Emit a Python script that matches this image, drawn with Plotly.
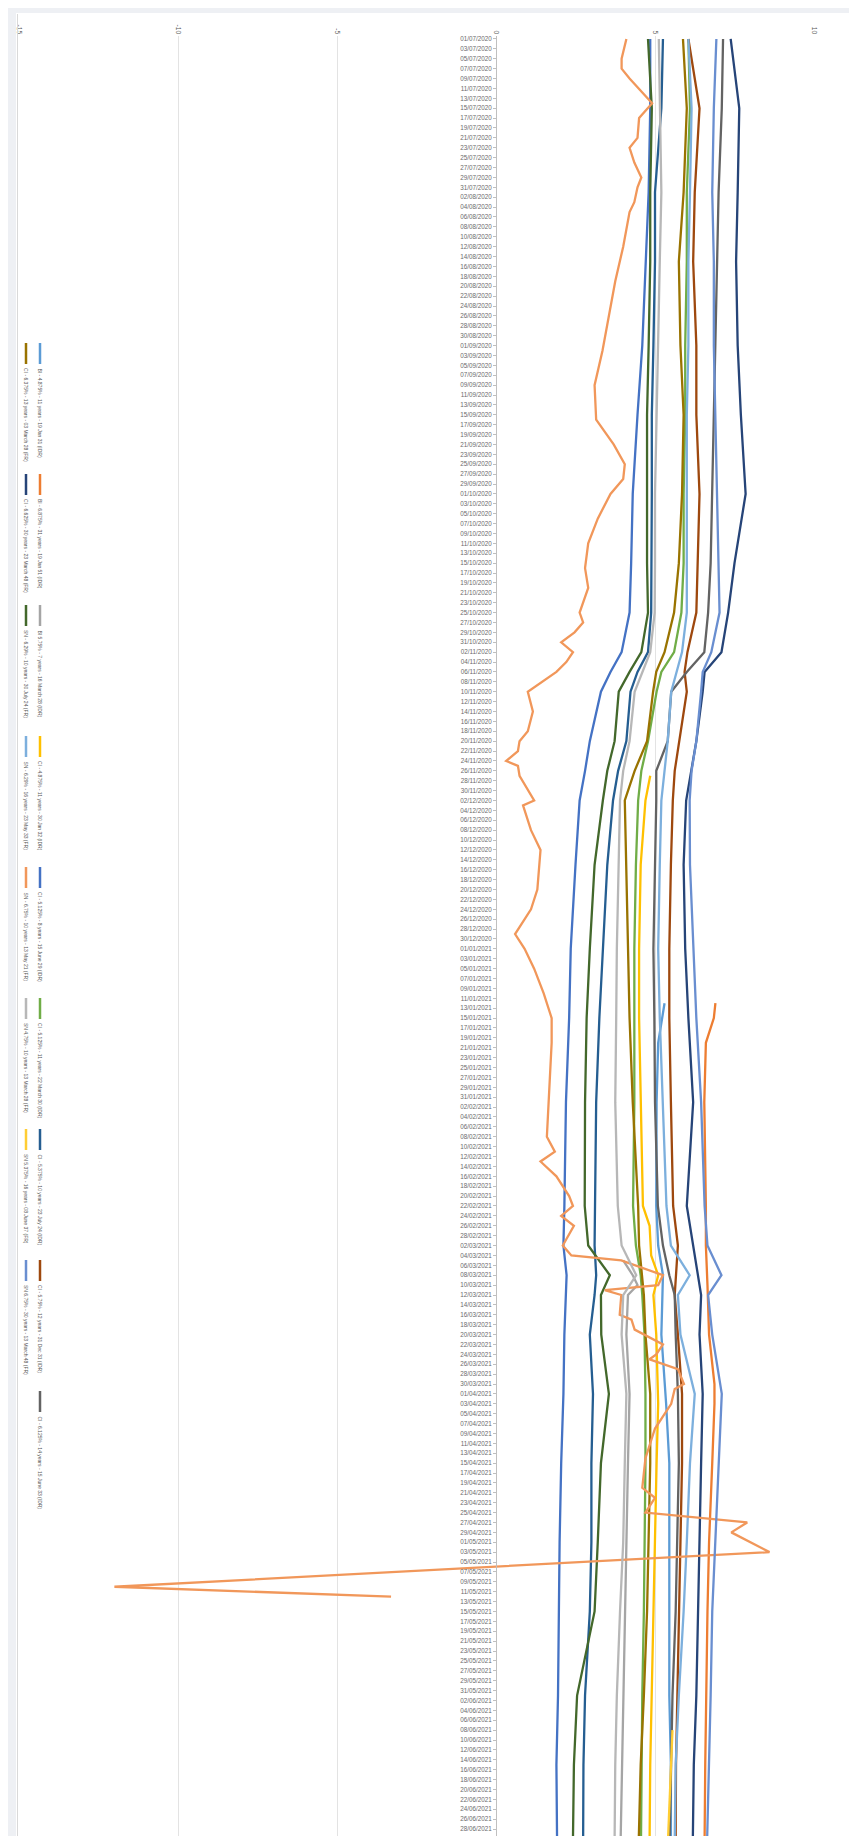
import plotly.graph_objects as go

# ---------------- data ----------------
grid_dates = ["2020-07-01", "2020-07-15", "2020-08-01", "2020-08-15", "2020-09-01", "2020-09-15",
              "2020-10-01", "2020-10-15", "2020-10-25", "2020-11-02", "2020-11-06", "2020-11-10",
              "2020-11-20", "2020-11-26", "2020-12-02", "2020-12-15", "2021-01-01", "2021-01-15",
              "2021-02-01", "2021-02-22", "2021-03-02", "2021-03-08", "2021-03-12", "2021-03-20",
              "2021-04-01", "2021-04-15", "2021-05-01", "2021-05-15", "2021-06-01", "2021-06-15",
              "2021-06-30"]

bi_4875_31_dates = ["2021-01-12", "2021-01-20", "2021-02-01", "2021-02-22", "2021-03-02", "2021-03-08",
                    "2021-03-20", "2021-04-03", "2021-04-15", "2021-05-01", "2021-05-15", "2021-06-01",
                    "2021-06-15", "2021-06-30"]
bi_4875_31 = [5.3, 5.1, 5.05, 5.04, 5.1, 5.25, 5.2, 5.35, 5.45, 5.45, 5.45, 5.45, 5.5, 5.5]

bi_6875_51_dates = ["2021-01-12", "2021-01-15", "2021-01-20", "2021-02-01", "2021-02-22", "2021-03-02",
                    "2021-03-10", "2021-03-20", "2021-03-30", "2021-04-03", "2021-04-15", "2021-05-01",
                    "2021-05-15", "2021-06-01", "2021-06-15", "2021-06-30"]
bi_6875_51 = [6.9, 6.85, 6.6, 6.55, 6.6, 6.6, 6.65, 6.7, 6.87, 6.87, 6.8, 6.7, 6.65, 6.6, 6.58, 6.56]

bi_575_28_dates = ["2021-03-05", "2021-03-08", "2021-03-10", "2021-03-12", "2021-03-20", "2021-04-01",
                   "2021-04-15", "2021-05-01", "2021-05-15", "2021-06-01", "2021-06-15", "2021-06-30"]
bi_575_28 = [4.0, 4.3, 4.45, 4.15, 4.1, 4.2, 4.15, 4.1, 4.05, 4.0, 3.95, 3.92]

ci_4875_32_dates = ["2020-11-27", "2020-12-02", "2020-12-15", "2021-01-01", "2021-01-15", "2021-02-01",
                    "2021-02-22", "2021-02-26", "2021-03-04", "2021-03-08", "2021-03-12", "2021-03-20",
                    "2021-04-03", "2021-04-15", "2021-05-01", "2021-05-15", "2021-06-01", "2021-06-15",
                    "2021-06-30"]
ci_4875_32 = [4.85, 4.7, 4.55, 4.5, 4.5, 4.55, 4.62, 4.83, 4.88, 5.1, 4.95, 5.04, 5.1, 5.05, 5.0, 4.95,
              4.9, 4.85, 4.83]

ci_5125_29 = [4.85, 4.85, 4.8, 4.7, 4.6, 4.45, 4.3, 4.25, 4.2, 3.95, 3.6, 3.3, 2.95, 2.8, 2.63, 2.5,
              2.35, 2.3, 2.2, 2.15, 2.12, 2.22, 2.2, 2.15, 2.12, 2.05, 2.0, 1.98, 1.95, 1.9, 1.92]
ci_5125_30 = [6.05, 6.1, 6.0, 6.0, 5.95, 5.95, 5.9, 5.9, 5.83, 5.6, 5.2, 5.05, 4.78, 4.57, 4.47, 4.4,
              4.35, 4.35, 4.35, 4.31, 4.4, 4.55, 4.6, 4.67, 4.7, 4.7, 4.68, 4.65, 4.6, 4.58, 4.56]
ci_5375_24 = [5.25, 5.2, 5.0, 5.0, 4.95, 4.9, 4.9, 4.9, 4.88, 4.78, 4.45, 4.23, 4.1, 3.84, 3.68, 3.5,
              3.35, 3.25, 3.15, 3.1, 3.1, 3.15, 3.1, 2.95, 3.05, 3.0, 3.0, 2.95, 2.8, 2.75, 2.74]
ci_575_31 = [6.05, 6.4, 6.25, 6.2, 6.3, 6.3, 6.4, 6.35, 6.3, 6.02, 5.93, 6.0, 5.75, 5.62, 5.56, 5.5,
             5.45, 5.45, 5.5, 5.57, 5.72, 5.65, 5.62, 5.72, 5.85, 5.85, 5.8, 5.75, 5.7, 5.66, 5.65]
ci_6125_33 = [7.14, 7.1, 7.0, 6.95, 6.9, 6.85, 6.8, 6.75, 6.67, 6.55, 6.0, 5.51, 5.4, 5.04, 5.04, 5.0,
              4.95, 4.98, 5.0, 5.09, 5.25, 5.45, 5.62, 5.65, 5.72, 5.75, 5.7, 5.65, 5.55, 5.5, 5.46]
ci_6375_28 = [5.88, 6.0, 5.9, 5.75, 5.8, 5.9, 5.85, 5.75, 5.6, 5.3, 5.04, 4.94, 4.75, 4.36, 4.05, 4.1,
              4.15, 4.2, 4.3, 4.47, 4.5, 4.6, 4.65, 4.7, 4.85, 4.85, 4.8, 4.75, 4.65, 4.55, 4.49]
ci_6625_48 = [7.38, 7.65, 7.6, 7.55, 7.6, 7.7, 7.85, 7.5, 7.3, 7.09, 6.56, 6.5, 6.3, 6.14, 5.98, 5.9,
              5.95, 6.05, 6.2, 6.0, 6.2, 6.35, 6.45, 6.4, 6.5, 6.45, 6.4, 6.35, 6.3, 6.22, 6.19]
sn_629_24 = [4.78, 4.9, 4.85, 4.85, 4.8, 4.75, 4.75, 4.75, 4.78, 4.57, 4.2, 3.86, 3.73, 3.5, 3.36, 3.1,
             2.95, 2.85, 2.8, 2.79, 2.9, 3.58, 3.3, 3.31, 3.55, 3.3, 3.2, 3.1, 2.55, 2.45, 2.42]
sn_629_33 = [6.05, 6.15, 6.1, 6.05, 6.05, 6.0, 6.0, 6.0, 6.0, 5.85, 5.67, 5.51, 5.4, 5.3, 5.2, 5.15,
             5.1, 5.15, 5.25, 5.36, 5.5, 6.09, 5.72, 5.8, 6.25, 6.1, 6.0, 5.9, 5.75, 5.65, 5.62]
sn_475_28 = [5.12, 5.15, 5.2, 5.15, 5.1, 5.05, 5.0, 5.0, 4.99, 4.85, 4.6, 4.36, 4.2, 4.0, 3.9, 3.85,
             3.8, 3.78, 3.75, 3.83, 3.95, 4.41, 4.0, 3.95, 4.1, 4.05, 4.0, 3.9, 3.8, 3.75, 3.73]
sn_675_48 = [6.93, 6.85, 6.8, 6.85, 6.85, 6.9, 6.95, 7.0, 7.03, 6.77, 6.5, 6.45, 6.3, 6.15, 6.09, 6.1,
             6.2, 6.3, 6.45, 6.56, 6.65, 7.09, 6.67, 6.8, 7.1, 7.0, 6.9, 6.8, 6.75, 6.7, 6.64]

sn_675_21_dates = ["2020-07-01", "2020-07-05", "2020-07-07", "2020-07-09", "2020-07-14", "2020-07-17",
                   "2020-07-21", "2020-07-23", "2020-07-26", "2020-07-29", "2020-07-31", "2020-08-03",
                   "2020-08-05", "2020-08-12", "2020-08-19", "2020-08-26", "2020-09-02", "2020-09-09",
                   "2020-09-16", "2020-09-21", "2020-09-25", "2020-09-28", "2020-10-01", "2020-10-06",
                   "2020-10-11", "2020-10-16", "2020-10-20", "2020-10-25", "2020-10-27", "2020-10-29",
                   "2020-10-31", "2020-11-02", "2020-11-04", "2020-11-06", "2020-11-10", "2020-11-14",
                   "2020-11-18", "2020-11-20", "2020-11-22", "2020-11-24", "2020-11-25", "2020-11-27",
                   "2020-11-30", "2020-12-02", "2020-12-03", "2020-12-08", "2020-12-12", "2020-12-16",
                   "2020-12-20", "2020-12-24", "2020-12-29", "2021-01-01", "2021-01-05", "2021-01-10",
                   "2021-01-15", "2021-01-20", "2021-01-27", "2021-02-03", "2021-02-08", "2021-02-11",
                   "2021-02-13", "2021-02-16", "2021-02-20", "2021-02-22", "2021-02-24", "2021-02-26",
                   "2021-03-02", "2021-03-04", "2021-03-05", "2021-03-08", "2021-03-10", "2021-03-11",
                   "2021-03-12", "2021-03-16", "2021-03-17", "2021-03-19", "2021-03-22", "2021-03-24",
                   "2021-03-25", "2021-03-27", "2021-03-30", "2021-03-31", "2021-04-03", "2021-04-08",
                   "2021-04-14", "2021-04-20", "2021-04-22", "2021-04-25", "2021-04-27", "2021-04-29",
                   "2021-05-03", "2021-05-10", "2021-05-12"]
sn_675_21 = [4.1, 3.95, 3.95, 4.2, 4.91, 4.5,
             4.45, 4.2, 4.35, 4.57, 4.45, 4.35,
             4.2, 4.0, 3.75, 3.55, 3.35, 3.1,
             3.15, 3.7, 4.05, 4.0, 3.6, 3.2,
             2.9, 2.8, 2.9, 2.63, 2.74, 2.47,
             2.05, 2.42, 2.21, 1.9, 1.0, 1.16,
             1.0, 0.74, 0.69, 0.32, 0.69, 0.74,
             1.0, 1.2, 0.85, 1.1, 1.4, 1.35,
             1.3, 1.1, 0.6, 0.9, 1.2, 1.5,
             1.75, 1.75, 1.7, 1.65, 1.6, 1.85,
             1.4, 1.9, 2.3, 2.42, 2.05, 2.45,
             2.1, 2.37, 3.94, 5.25, 5.1, 3.42,
             3.94, 3.89, 4.26, 4.36, 5.25, 5.04,
             4.83, 5.72, 5.91, 5.62, 5.51, 5.0,
             4.7, 4.6, 5.0, 4.7, 7.9, 7.4,
             8.6, -12.0, -3.3]

sn_5375_37_dates = ["2021-06-08", "2021-06-15", "2021-06-22", "2021-06-30"]
sn_5375_37 = [5.55, 5.5, 5.45, 5.41]

names = ["BI - 4.875% - 11 years - 19 Jan 31 (IDR)",
         "BI - 6.875% - 31 years - 19 Jan 51 (IDR)",
         "BI 5.75% - 7 years - 16 March 28 (IDR)",
         "CI - 4.875% - 11 years - 30 Jan 32 (IDR)",
         "CI - 5.125% - 8 years - 15 June 29 (IDR)",
         "CI - 5.125% - 11 years - 22 March 30 (IDR)",
         "CI - 5.375% - 10 years - 23 July 24 (IDR)",
         "CI - 5.75% - 12 years - 31 Dec 31 (IDR)",
         "CI - 6.125% - 14 years - 15 June 33 (IDR)",
         "CI - 6.375% - 13 years - 03 March 28 (FR)",
         "CI - 6.625% - 30 years - 23 March 48 (FR)",
         "SN - 6.29% - 10 years - 30 July 24 (FR)",
         "SN - 6.29% - 16 years - 23 May 33 (FR)",
         "SN - 6.75% - 10 years - 13 May 21 (FR)",
         "SN 4.75% - 10 years - 13 March 28 (FR)",
         "SN 5.375% - 16 years - 08 June 37 (FR)",
         "SN 6.75% - 30 years - 13 March 48 (FR)"]

colors = ["#5B9BD5", "#ED7D31", "#A5A5A5", "#FFC000", "#4472C4", "#70AD47", "#255E91", "#9E480E",
          "#636363", "#997300", "#264478", "#43682B", "#7CAFDD", "#F1975A", "#B7B7B7", "#FFCD33",
          "#698ED0"]

series = [
    (bi_4875_31_dates, bi_4875_31),
    (bi_6875_51_dates, bi_6875_51),
    (bi_575_28_dates, bi_575_28),
    (ci_4875_32_dates, ci_4875_32),
    (grid_dates, ci_5125_29),
    (grid_dates, ci_5125_30),
    (grid_dates, ci_5375_24),
    (grid_dates, ci_575_31),
    (grid_dates, ci_6125_33),
    (grid_dates, ci_6375_28),
    (grid_dates, ci_6625_48),
    (grid_dates, sn_629_24),
    (grid_dates, sn_629_33),
    (sn_675_21_dates, sn_675_21),
    (grid_dates, sn_475_28),
    (sn_5375_37_dates, sn_5375_37),
    (grid_dates, sn_675_48),
]

x_ticks = [-15, -10, -5, 0, 5, 10]

# ---------------- figure ----------------
W, H = 857, 1836
L, R, T, B = 11, 51, 28, 0
FONT = "Liberation Sans, Arial, sans-serif"


def px_x(px):
    return (px - L) / (W - L - R)


def px_y(py):
    return 1 - (py - T) / (H - T - B)


fig = go.Figure()
for (d, v), name, col in zip(series, names, colors):
    fig.add_trace(go.Scatter(x=v, y=d, mode="lines", name=name,
                             line=dict(color=col, width=2.3), connectgaps=True,
                             showlegend=False, hoverinfo="skip"))

shapes = [
    dict(type="rect", xref="paper", yref="paper", x0=px_x(0), x1=px_x(8), y0=px_y(H), y1=px_y(0),
         fillcolor="#EEF0F4", line=dict(width=0), layer="below"),
    dict(type="rect", xref="paper", yref="paper", x0=px_x(0), x1=px_x(W), y0=px_y(5), y1=px_y(0),
         fillcolor="#EEF0F4", line=dict(width=0), layer="below"),
    dict(type="line", xref="paper", yref="paper", x0=px_x(9.5), x1=px_x(9.5), y0=px_y(H), y1=px_y(6),
         line=dict(color="#D9D9D9", width=1)),
]
annotations = []
for i, (name, col) in enumerate(zip(names, colors)):
    if i < 9:
        cx, ys = 32, 335 + 131 * i
    else:
        cx, ys = 18, 335 + 131 * (i - 9)
    shapes.append(dict(type="line", xref="paper", yref="paper", x0=px_x(cx), x1=px_x(cx),
                       y0=px_y(ys), y1=px_y(ys + 21), line=dict(color=col, width=2.5)))
    annotations.append(dict(x=px_x(cx), y=px_y(ys + 24), xref="paper", yref="paper",
                            text=name, showarrow=False, textangle=90,
                            xanchor="center", yanchor="top", borderpad=0,
                            font=dict(size=5, color="#595959", family=FONT)))

fig.update_layout(
    width=W, height=H,
    margin=dict(l=L, r=R, t=T, b=B, pad=0),
    paper_bgcolor="white", plot_bgcolor="white",
    showlegend=False,
    font=dict(family=FONT, color="#595959"),
    xaxis=dict(range=[-15, 10], side="top", tickmode="array", tickvals=x_ticks,
               ticktext=[str(t) for t in x_ticks], tickangle=90,
               tickfont=dict(size=6.5, color="#595959"),
               showgrid=True, gridcolor="#E3E3E3", gridwidth=1, zeroline=False,
               showline=False, ticks=""),
    yaxis=dict(type="date", autorange=False,
               range=["2021-07-01 00:30", "2020-06-30 09:36"],
               tick0="2020-07-01", dtick=2 * 86400000, tickformat="%d/%m/%Y",
               tickfont=dict(size=6.3, color="#6b6b6b"),
               anchor="free", position=0.6, showgrid=False, zeroline=False,
               showline=True, linecolor="#BFBFBF", linewidth=1,
               ticks="outside", ticklen=3, tickcolor="#BFBFBF"),
    shapes=shapes,
    annotations=annotations,
)

fig.write_html("out.html")
